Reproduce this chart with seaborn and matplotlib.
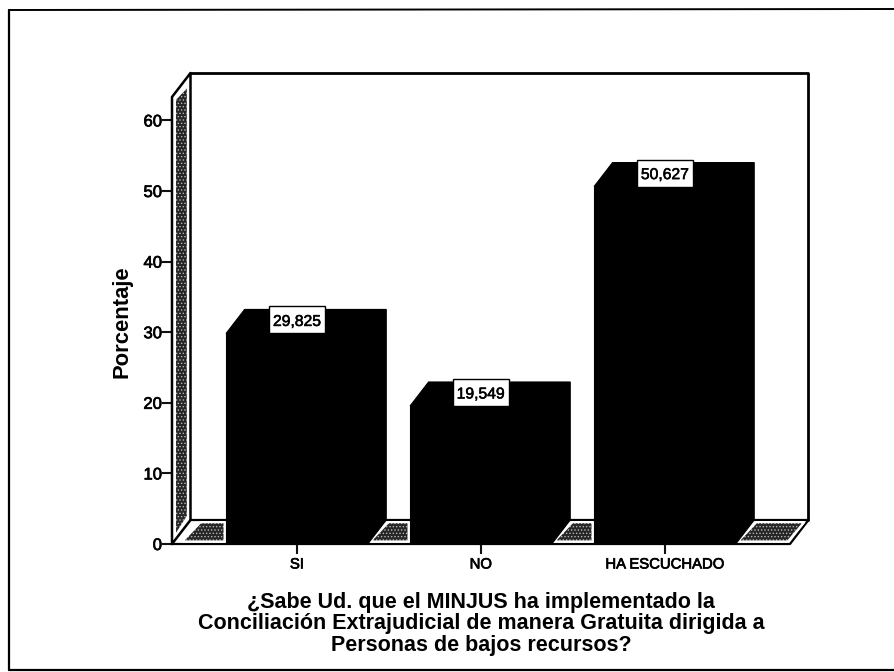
import matplotlib
matplotlib.use("Agg")
import matplotlib.pyplot as plt
from matplotlib.patches import Polygon, Rectangle
from matplotlib.lines import Line2D
import matplotlib.patheffects as pe
import seaborn as sns
import pandas as pd

categories = ["SI", "NO", "HA ESCUCHADO"]
values = [29.825, 19.549, 50.627]
value_labels = ["29,825", "19,549", "50,627"]
y_ticks = [0, 10, 20, 30, 40, 50, 60]
x_title = "¿Sabe Ud. que el MINJUS ha implementado la\nConciliación Extrajudicial de manera Gratuita dirigida a\nPersonas de bajos recursos?"
y_title = "Porcentaje"

W, H = 894, 672
sns.set_theme(style="white")
plt.rcParams["font.family"] = ["Liberation Sans", "DejaVu Sans"]
plt.rcParams["hatch.linewidth"] = 0.6

fig = plt.figure(figsize=(W / 100, H / 100), dpi=100, facecolor="white")
ax = fig.add_axes([172 / W, 1 - 544 / H, (790 - 172) / W, (544 - 97) / H])

df = pd.DataFrame({"cat": categories, "val": values})
sns.barplot(data=df, x="cat", y="val", order=categories, color="black",
            width=0.77, saturation=1, edgecolor="black", linewidth=0.8, ax=ax, zorder=5)
x0, x1 = -0.679, 2.68
y1 = (544 - 97) / 7.06
ax.set_xlim(x0, x1)
ax.set_ylim(0, y1)
dx = 18.5 / 184
dy = 24 / 7.06

for s in ax.spines.values():
    s.set_visible(False)

ax.set_yticks(y_ticks)
ax.tick_params(axis="both", which="both", left=True, bottom=True, length=7.2, width=1.5, color="#111111")
ax.tick_params(axis="y", labelsize=12, pad=0, labelcolor="black")
ax.tick_params(axis="x", labelsize=10.7, pad=2.5, labelcolor="black")
stroke = [pe.withStroke(linewidth=0.5, foreground="black")]
for t in ax.get_yticklabels() + ax.get_xticklabels():
    t.set_path_effects(stroke)

ax.set_xlabel("")
ax.set_ylabel("")

STIP = dict(facecolor="#262626", edgecolor="#b8b8b8", hatch=".....", linewidth=0, clip_on=False)

def outline(xs, ys, z=2, lw=1.8, c="black"):
    ax.add_line(Line2D(xs, ys, color=c, lw=lw, clip_on=False, zorder=z, solid_capstyle="round"))

# walls
ax.add_patch(Polygon([(x0, 0), (x0 + dx, dy), (x0 + dx, y1 + dy), (x0, y1)], facecolor="white", edgecolor="none", clip_on=False, zorder=1))
ax.add_patch(Polygon([(x0 + 0.022, 1.6), (x0 + dx - 0.02, dy + 0.6), (x0 + dx - 0.02, y1 + dy - 2.2), (x0 + 0.022, y1 - 0.4)], zorder=2, **STIP))
outline([x0, x0, x0 + dx, x0 + dx, x0], [0, y1, y1 + dy, dy, 0], z=3)
outline([x0 + dx, x1 + dx, x1 + dx], [y1 + dy, y1 + dy, dy], z=3, lw=2)
outline([x0 + dx, x1 + dx, x1, x0], [dy, dy, 0, 0], z=3, lw=1.6)

# floor patches visible between the bars
bars = [p for p in ax.patches if isinstance(p, Rectangle)][:3]
edges = [x0 + 0.055] + [e for b in bars for e in (b.get_x(), b.get_x() + b.get_width())] + [x1 - 0.01]
for i in range(0, len(edges), 2):
    a, b = edges[i], edges[i + 1]
    inset = 0.012 if i > 0 else 0.0
    top_r = min(b, x1 + dx - 0.02) if i < 6 else x1 + dx - 0.015
    bot_r = b - 0.008 if i < 6 else x1 - 0.012
    poly = [(a + inset, 0.35), (a + dx + inset, dy - 0.3), (top_r - 0.008, dy - 0.3), (bot_r, 0.35)]
    ax.add_patch(Polygon(poly, zorder=4, **STIP))
    ax.add_patch(Polygon(poly, facecolor="none", edgecolor="white", lw=1.6, clip_on=False, zorder=4.5))

# 3D extrusion of each bar, built from the bar's own geometry
for b in bars:
    l, r, v = b.get_x(), b.get_x() + b.get_width(), b.get_height()
    ax.add_patch(Polygon([(l, v), (l + dx, v + dy), (r + dx, v + dy), (r + dx, dy), (r, 0), (r, v)],
                         facecolor="black", edgecolor="black", lw=0.8, clip_on=False, zorder=5))

# value labels: box sits on the front top edge of each bar
box_w, box_h = 56 / 184, 27 / 7.06
for i, (v, lab) in enumerate(zip(values, value_labels)):
    ax.add_patch(Rectangle((i - box_w / 2, v), box_w, box_h, facecolor="white", edgecolor="black", lw=1.0, clip_on=False, zorder=7))
    ax.text(i, v + box_h / 2, lab, ha="center", va="center_baseline", fontsize=11.3, color="black", zorder=8,
            path_effects=[pe.withStroke(linewidth=0.4, foreground="black")])

# axis titles and page furniture
fig.text(122 / W, 1 - 322 / H, y_title, rotation=90, ha="center", va="center", fontsize=15.8, fontweight="bold", color="black")
fig.text(481 / W, 1 - 624 / H, x_title, ha="center", va="center", fontsize=15.5, fontweight="bold", color="black", linespacing=1.05, multialignment="center")

fig.add_artist(Line2D([9 / W, 9 / W], [1 - 10 / H, 1 - 670 / H], color="black", lw=1.6))
fig.add_artist(Line2D([9 / W, 1], [1 - 10 / H, 1 - 9 / H], color="black", lw=1.4))
fig.add_artist(Line2D([9 / W, 1], [1 - 670 / H, 1 - 670 / H], color="black", lw=1.6))

fig.savefig("out.png", dpi=100, facecolor="white")
